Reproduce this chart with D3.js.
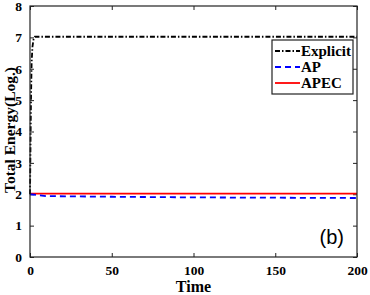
<!DOCTYPE html>
<html>
<head>
<meta charset="utf-8">
<script src="https://cdn.jsdelivr.net/npm/d3@7"></script>
<style>
  body { margin: 0; background: #fff; }
  svg { display: block; }
  .tick text { font-family: "Liberation Serif", "Times New Roman", serif; font-weight: bold; font-size: 13.5px; fill: #000; }
</style>
</head>
<body>
<svg id="chart"></svg>
<script>
// Chart Configuration
const W = 370, H = 295;
const margin = { top: 6, right: 13, bottom: 38, left: 30 };
const width = W - margin.left - margin.right;
const height = H - margin.top - margin.bottom;

// data
const explicitT = [0, 0.3, 0.6, 1, 1.5, 2.2, 3, 200];
const explicitE = [2.0, 3.5, 5.0, 6.2, 6.7, 6.95, 7.02, 7.02];
const apT = [0, 5, 10, 50, 100, 150, 200];
const apE = [2.0, 1.97, 1.94, 1.92, 1.9, 1.89, 1.88];
const apecT = [0, 200];
const apecE = [2.02, 2.02];
const xTicks = [0, 50, 100, 150, 200];
const yTicks = [0, 1, 2, 3, 4, 5, 6, 7, 8];

const svg = d3.select("#chart").attr("width", W).attr("height", H);
const g = svg.append("g").attr("transform", `translate(${margin.left},${margin.top})`);

const x = d3.scaleLinear().domain([0, 200]).range([0, width]);
const y = d3.scaleLinear().domain([0, 8]).range([height, 0]);

// axes, ticks inward
g.append("g").attr("transform", `translate(0,${height})`)
  .call(d3.axisBottom(x).tickValues(xTicks).tickSizeInner(-4).tickSizeOuter(0).tickPadding(8));
g.append("g")
  .call(d3.axisLeft(y).tickValues(yTicks).tickSizeInner(-4).tickSizeOuter(0).tickPadding(8));
g.append("g")
  .call(d3.axisTop(x).tickValues(xTicks).tickSizeInner(-4).tickSizeOuter(0).tickFormat(""));
g.append("g").attr("transform", `translate(${width},0)`)
  .call(d3.axisRight(y).tickValues(yTicks).tickSizeInner(-4).tickSizeOuter(0).tickFormat(""));
g.selectAll(".domain").remove();
g.selectAll(".tick line").attr("stroke", "#222");

const line = d3.line().x(d => x(d[0])).y(d => y(d[1]));

const series = [
  { t: apecT, e: apecE, color: "#ff0000", dash: null, name: "APEC" },
  { t: apT, e: apE, color: "#0000ff", dash: "6,4", name: "AP" },
  { t: explicitT, e: explicitE, color: "#000", dash: "5,2,1.5,2", name: "Explicit" },
];

series.forEach(s => {
  g.append("path")
    .datum(d3.zip(s.t, s.e))
    .attr("d", line)
    .attr("fill", "none")
    .attr("stroke", s.color)
    .attr("stroke-width", 1.8)
    .attr("stroke-dasharray", s.dash);
});

// frame
g.append("rect").attr("width", width).attr("height", height)
  .attr("fill", "none").attr("stroke", "#222").attr("stroke-width", 1.2);

// legend
const leg = g.append("g").attr("transform", `translate(${272 - margin.left},${40 - margin.top})`);
leg.append("rect").attr("width", 81).attr("height", 54)
  .attr("fill", "#fff").attr("stroke", "#222").attr("stroke-width", 1.2);
[series[2], series[1], series[0]].forEach((s, i) => {
  const yy = 11 + i * 16;
  leg.append("line").attr("x1", 3).attr("x2", 28).attr("y1", yy).attr("y2", yy)
    .attr("stroke", s.color).attr("stroke-width", 1.8).attr("stroke-dasharray", s.dash);
  leg.append("text").attr("x", 29).attr("y", yy + 5)
    .attr("font-family", "Liberation Serif, serif").attr("font-weight", "bold")
    .attr("font-size", 15).text(s.name);
});

// panel label
g.append("text").attr("x", width - 13).attr("y", height - 13)
  .attr("text-anchor", "end").attr("font-family", "Liberation Sans, Arial, sans-serif")
  .attr("font-size", 20).text("(b)");

// axis titles
svg.append("text").attr("x", margin.left + width / 2).attr("y", 292)
  .attr("text-anchor", "middle").attr("font-family", "Liberation Serif, serif")
  .attr("font-weight", "bold").attr("font-size", 16).text("Time");
svg.append("text").attr("transform", `translate(14.5,130) rotate(-90)`)
  .attr("text-anchor", "middle").attr("font-family", "Liberation Serif, serif")
  .attr("font-weight", "bold").attr("font-size", 15.5).text("Total Energy(Log.)");
</script>
</body>
</html>
